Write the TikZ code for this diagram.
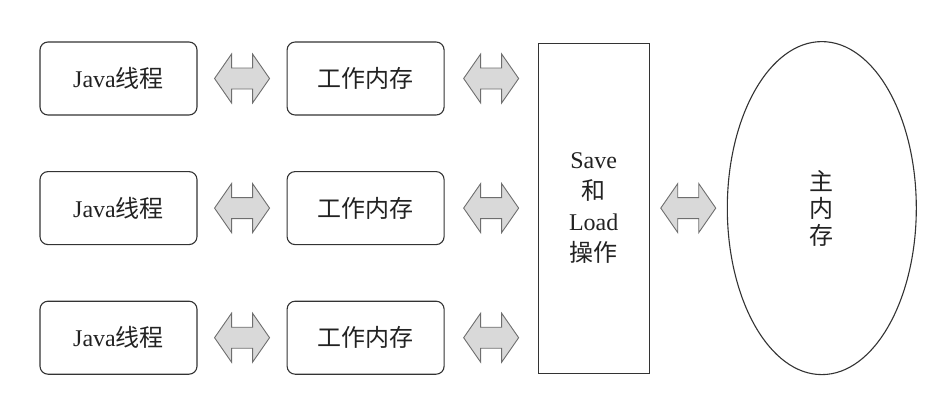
\documentclass[tikz,border=0pt]{standalone}
\usepackage{fontspec}
\setmainfont{Liberation Serif}
\newfontfamily\cjk{Noto Sans CJK SC}
\usepackage{xcolor}
\usepackage{tikz}
\usetikzlibrary{positioning, calc, shapes.geometric}
\definecolor{boxline}{HTML}{333333}
\definecolor{inktext}{HTML}{222222}
\definecolor{arrowfill}{HTML}{D9D9D9}
\definecolor{arrowline}{HTML}{6E6E6E}

\tikzset{
  membox/.style={draw=boxline, line width=1.1pt, rounded corners=8pt,
    minimum width=157pt, minimum height=73pt, text=inktext,
    font=\fontsize{24}{28}\selectfont},
  opbox/.style={draw=boxline, line width=1.1pt, minimum width=111pt,
    minimum height=330pt, text=inktext, align=center,
    font=\fontsize{24}{31}\selectfont},
  mainmem/.style={ellipse, draw=boxline, line width=1.1pt, minimum width=189pt,
    minimum height=333pt, inner sep=0pt, text=inktext, align=center,
    font=\cjk\fontsize{24}{27}\selectfont},
  fatarrow/.style={draw=arrowline, fill=arrowfill, line width=0.9pt, line join=miter}
}

\newcommand{\fatlink}[2]{%
  \path (#1.east) -- coordinate[pos=.5] (mid) (#1.east -| #2.west);
  \draw[fatarrow] ($(mid)+(-27.5pt,0)$) -- ++(17pt,24.5pt) -- ++(0,-14pt)
    -- ++(21pt,0) -- ++(0,14pt) -- ++(17pt,-24.5pt) -- ++(-17pt,-24.5pt)
    -- ++(0,14pt) -- ++(-21pt,0) -- ++(0,-14pt) -- cycle;}

\begin{document}
\begin{tikzpicture}
  \useasboundingbox (0,0) rectangle (947pt,-407pt);
  \node[membox] (thr1) at (118.5pt,-78.5pt) {Java{\cjk 线程}};
  \node[membox, below=55.5pt of thr1] (thr2) {Java{\cjk 线程}};
  \node[membox, below=55.5pt of thr2] (thr3) {Java{\cjk 线程}};
  \node[membox, right=89pt of thr1] (work1) {\cjk 工作内存};
  \node[membox, right=89pt of thr2] (work2) {\cjk 工作内存};
  \node[membox, right=89pt of thr3] (work3) {\cjk 工作内存};
  \node[opbox, right=93pt of work2] (saveload) {Save\\{\cjk 和}\\Load\\{\cjk 操作}};
  \node[mainmem, right=77pt of saveload] (mainm) {主\\内\\存};
  \fatlink{thr1}{work1}
  \fatlink{thr2}{work2}
  \fatlink{thr3}{work3}
  \fatlink{work1}{saveload}
  \fatlink{work2}{saveload}
  \fatlink{work3}{saveload}
  \fatlink{saveload}{mainm}
\end{tikzpicture}
\end{document}
